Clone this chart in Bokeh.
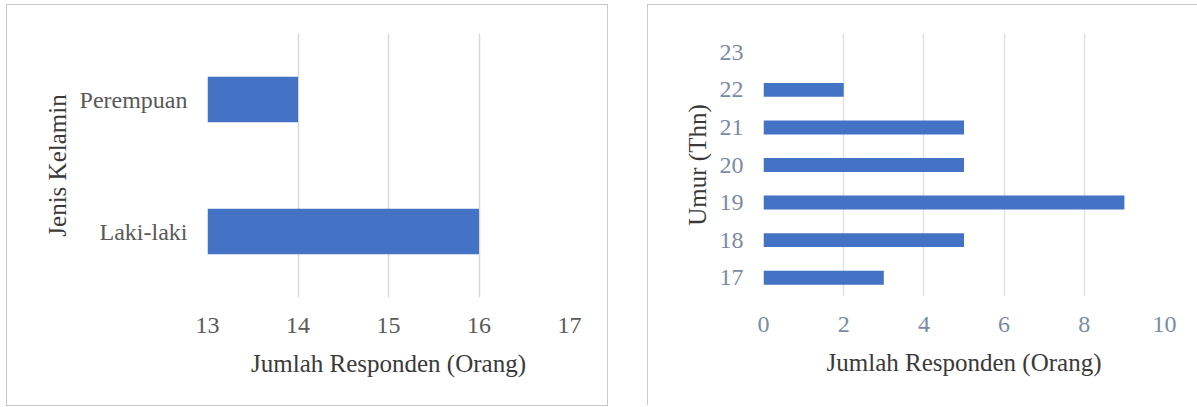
from bokeh.plotting import figure
from bokeh.layouts import row
from bokeh.models import FactorRange, Range1d, FixedTicker
from bokeh.embed import file_html
from bokeh.resources import INLINE

# Data
gender_cats = ["Laki-laki", "Perempuan"]
gender_vals = [16, 14]
gender_ticks = [13, 14, 15, 16, 17]

age_cats = ["17", "18", "19", "20", "21", "22", "23"]
age_vals = [3, 5, 9, 5, 5, 2, 0]
age_ticks = [0, 2, 4, 6, 8, 10]

BAR = "#4472C4"
FONT = "Liberation Serif"


def style(p, tick_color, grid_color, ticks):
    p.toolbar.logo = None
    p.xgrid.ticker = FixedTicker(ticks=ticks)
    p.xaxis.ticker = FixedTicker(ticks=ticks)
    p.xgrid.grid_line_color = grid_color
    p.xgrid.grid_line_width = 1.5
    p.ygrid.grid_line_color = None
    p.outline_line_color = None
    for ax in (p.xaxis, p.yaxis):
        ax.axis_line_color = None
        ax.major_tick_line_color = None
        ax.minor_tick_line_color = None
        ax.major_tick_out = 0
        ax.major_label_text_font = FONT
        ax.major_label_text_font_size = "24px"
        ax.major_label_text_color = tick_color
        ax.axis_label_text_font = FONT
        ax.axis_label_text_font_size = "25px"
        ax.axis_label_text_font_style = "normal"
        ax.axis_label_text_color = "#3a3a3a"
    p.xaxis.major_label_standoff = 20
    p.yaxis.major_label_standoff = 20
    p.xaxis.axis_label_standoff = 14
    p.yaxis.axis_label_standoff = 6


p1 = figure(y_range=FactorRange(*gender_cats), x_range=Range1d(13, 17),
            frame_width=360, frame_height=262, width=602, height=402,
            min_border_left=200, min_border_right=40, min_border_top=28, min_border_bottom=110,
            output_backend="svg", toolbar_location=None)
p1.hbar(y=gender_cats, right=gender_vals, left=13, height=0.345,
        fill_color=BAR, line_color=None)
style(p1, "#595959", "#d9d9d9", gender_ticks)
p1.xaxis.axis_label = "Jumlah Responden (Orang)"
p1.yaxis.axis_label = "Jenis Kelamin"
p1.styles = {"border": "1px solid #c8c8c8", "box-sizing": "border-box"}
p1.margin = (4, 0, 0, 6)

p2 = figure(y_range=FactorRange(*age_cats), x_range=Range1d(0, 10),
            frame_width=400, frame_height=262, width=550, height=402,
            min_border_left=115, min_border_right=34, min_border_top=28, min_border_bottom=110,
            output_backend="svg", toolbar_location=None)
p2.hbar(y=age_cats, right=age_vals, left=0, height=0.37,
        fill_color=BAR, line_color=None)
style(p2, "#7b8ba4", "#dde1e8", age_ticks)
p2.xaxis.axis_label = "Jumlah Responden (Orang)"
p2.yaxis.axis_label = "Umur (Thn)"
p2.styles = {"border-left": "1px solid #c8c8c8", "border-top": "1px solid #c8c8c8", "box-sizing": "border-box"}
p2.margin = (4, 0, 0, 0)

layout = row(p1, p2, spacing=39)
open("out.html", "w").write(file_html(layout, INLINE))
